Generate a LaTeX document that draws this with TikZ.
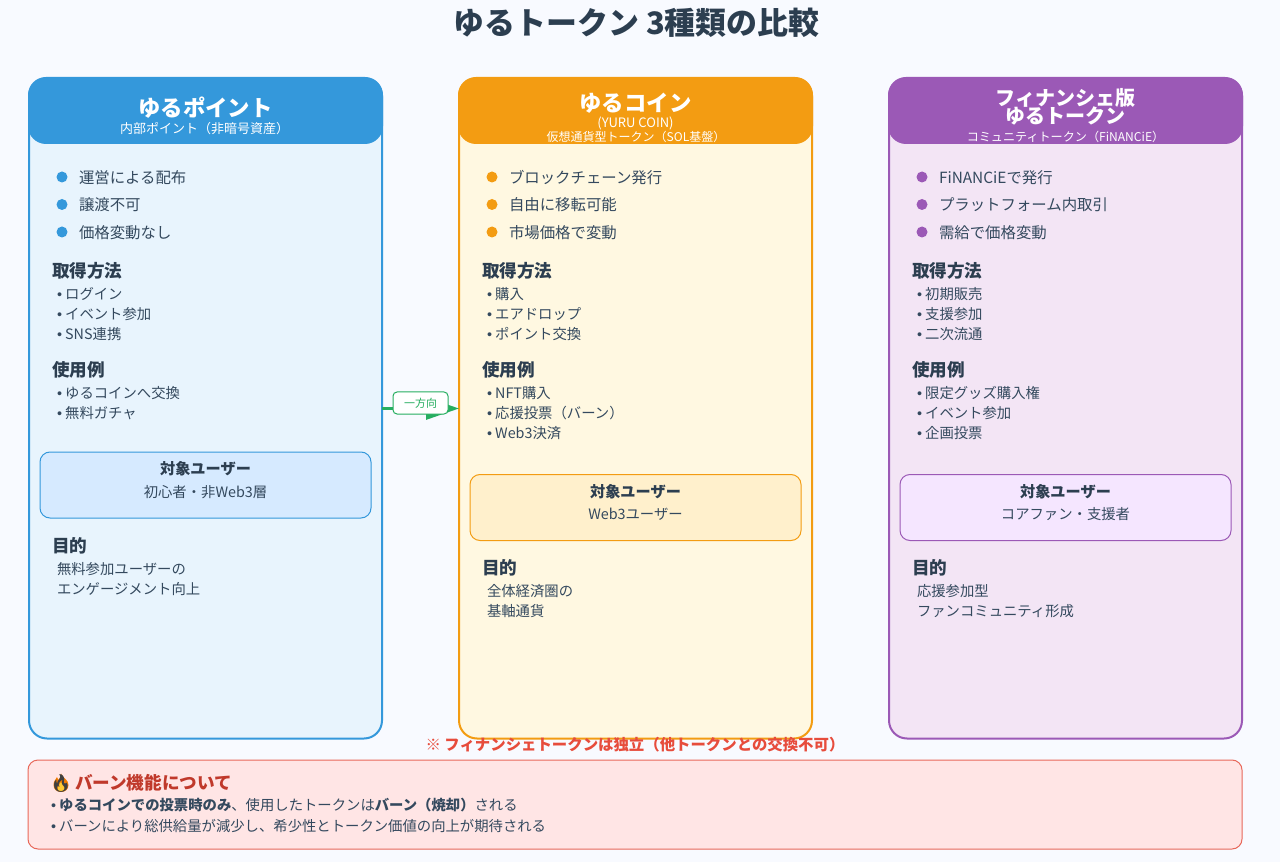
\documentclass[tikz,border=0pt]{standalone}
\usepackage{fontspec}
\usetikzlibrary{arrows.meta}
\setmainfont{Noto Sans CJK JP}
\newfontfamily\latbul{Liberation Sans}
\newfontfamily\emojifont{Noto Emoji}
\definecolor{pagebg}{HTML}{F8FAFF}
\definecolor{ink}{HTML}{2C3E50}
\definecolor{inksoft}{HTML}{34495E}
\definecolor{cblue}{HTML}{3498DB}
\definecolor{corange}{HTML}{F39C12}
\definecolor{cpurple}{HTML}{9B59B6}
\definecolor{bblue}{HTML}{E8F4FD}
\definecolor{borange}{HTML}{FFF8E1}
\definecolor{bpurple}{HTML}{F3E5F5}
\definecolor{tblue}{HTML}{D6EAFF}
\definecolor{torange}{HTML}{FFF0CC}
\definecolor{tpurple}{HTML}{F5E6FF}
\definecolor{cgreen}{HTML}{27AE60}
\definecolor{cred}{HTML}{E74C3C}
\definecolor{dred}{HTML}{C0392B}
\definecolor{bred}{HTML}{FFE5E5}
\definecolor{bline}{HTML}{E8685A}
\definecolor{flameout}{HTML}{F57C00}
\definecolor{flamein}{HTML}{FFC933}
\newcounter{lblc}
\newcommand{\lbl}[4]{\stepcounter{lblc}\node[#1] (lbl\thelblc) at (#2,#3) {#4};}
\newcommand{\itm}{{\latbul •}\hspace{0.22em}}
\newcommand{\bul}[3]{\stepcounter{lblc}\node[dotmark,fill=#1] (lbl\thelblc) at (#2,#3) {};}
\tikzset{
  txt/.style={inner sep=0pt,outer sep=0pt,anchor=base west,yshift={-(#1*0.2625pt+0.75pt)},
     font=\fontsize{\fpeval{#1*0.75}pt}{\fpeval{#1*0.9}pt}\selectfont},
  ctr/.style={inner sep=0pt,outer sep=0pt,anchor=base,yshift={-(#1*0.2625pt+0.75pt)},
     font=\fontsize{\fpeval{#1*0.75}pt}{\fpeval{#1*0.9}pt}\selectfont},
  bullet text/.style={txt=15.4,text=inksoft},
  sec head/.style={txt=17.6,text=ink,font=\fontsize{13.2pt}{16pt}\selectfont\bfseries},
  item text/.style={txt=14.35,text=inksoft},
  head name/.style={ctr=22.4,text=white,font=\fontsize{16.8pt}{20pt}\selectfont\bfseries},
  head name small/.style={ctr=20,text=white,font=\fontsize{15pt}{18pt}\selectfont\bfseries},
  target head/.style={ctr=15.2,text=ink,font=\fontsize{11.4pt}{14pt}\selectfont\bfseries},
  target text/.style={ctr=14.35,text=inksoft},
  dotmark/.style={circle,inner sep=0pt,outer sep=0pt,minimum size=8.25pt,draw=none},
  cardbody/.style={rounded corners=13.5pt,line width=1.5pt,inner sep=0pt,outer sep=0pt,
     minimum width=264.75pt,minimum height=495pt},
  cardhead/.style={rounded corners=13.5pt,draw=none,inner sep=0pt,outer sep=0pt,
     minimum width=266.25pt,minimum height=50.25pt},
  targetbox/.style={rounded corners=7.5pt,line width=0.75pt,inner sep=0pt,outer sep=0pt,
     minimum width=248.25pt,minimum height=49.5pt},
  burnbox/.style={rounded corners=7.5pt,line width=0.75pt,draw=bline,fill=bred,inner sep=0pt,outer sep=0pt,
     minimum width=910.5pt,minimum height=66.75pt},
  flowtag/.style={rounded corners=3pt,line width=0.75pt,draw=cgreen,fill=white,text=cgreen,
     inner sep=0pt,outer sep=0pt,minimum width=41.25pt,minimum height=16.5pt,
     font=\fontsize{8.25pt}{10pt}\selectfont},
  flowline/.style={line width=2.25pt,draw=cgreen,-{Triangle[length=24.75pt,width=16.5pt,fill=cgreen]}}
}
\begin{document}
\begin{tikzpicture}[x=0.75pt,y=-0.75pt]
\useasboundingbox (0,0) rectangle (1280,862);
\fill[pagebg] (0,0) rectangle (1280,862);
% title
\node[ctr=31,text=ink,font=\fontsize{23.2pt}{28pt}\selectfont\bfseries] (title) at (636.5,22.5) {ゆるトークン 3種類の比較};
% cards
\node[cardbody,draw=cblue,fill=bblue] (card1) at (205.5,408.5) {};
\node[cardbody,draw=corange,fill=borange] (card2) at (635.5,408.5) {};
\node[cardbody,draw=cpurple,fill=bpurple] (card3) at (1065.5,408.5) {};
\node[cardhead,fill=cblue] (head1) at (205.5,110.5) {};
\node[cardhead,fill=corange] (head2) at (635.5,110.5) {};
\node[cardhead,fill=cpurple] (head3) at (1065.5,110.5) {};
% connector
\draw[flowline] (card1.east) -- (card2.west);
\node[flowtag] (flow) at (420.5,403) {一方向};
% headers
\lbl{head name}{205.5}{108}{ゆるポイント}
\lbl{ctr=13,text=white}{204.5}{128}{内部ポイント（非暗号資産）}
\lbl{head name}{635.5}{102.5}{ゆるコイン}
\lbl{ctr=13,text=white}{635.5}{122}{(YURU COIN)}
\lbl{ctr=12,text=white}{636}{136}{仮想通貨型トークン（SOL基盤）}
\lbl{head name small}{1065.5}{98}{フィナンシェ版}
\lbl{head name small}{1065.5}{116}{ゆるトークン}
\lbl{ctr=12.1,text=white}{1065.5}{136}{コミュニティトークン（FiNANCiE）}
% column 1
\bul{cblue}{62}{177}\lbl{bullet text}{79}{177}{運営による配布}
\bul{cblue}{62}{204.5}\lbl{bullet text}{79}{204.5}{譲渡不可}
\bul{cblue}{62}{232}\lbl{bullet text}{79}{232}{価格変動なし}
\lbl{sec head}{52}{270}{取得方法}
\lbl{item text}{57}{293}{\itm ログイン}
\lbl{item text}{57}{313}{\itm イベント参加}
\lbl{item text}{57}{333}{\itm SNS連携}
\lbl{sec head}{52}{369}{使用例}
\lbl{item text}{57}{392}{\itm ゆるコインへ交換}
\lbl{item text}{57}{412}{\itm 無料ガチャ}
\node[targetbox,draw=cblue,fill=tblue] (tbox1) at (205.5,485) {};
\lbl{target head}{205.5}{468}{対象ユーザー}
\lbl{target text}{205.5}{491}{初心者・非Web3層}
\lbl{sec head}{52}{545}{目的}
\lbl{item text}{57}{568}{無料参加ユーザーの}
\lbl{item text}{57}{588}{エンゲージメント向上}
% column 2
\bul{corange}{492}{177}\lbl{bullet text}{509}{177}{ブロックチェーン発行}
\bul{corange}{492}{204.5}\lbl{bullet text}{509}{204.5}{自由に移転可能}
\bul{corange}{492}{232}\lbl{bullet text}{509}{232}{市場価格で変動}
\lbl{sec head}{482}{270}{取得方法}
\lbl{item text}{487}{293}{\itm 購入}
\lbl{item text}{487}{313}{\itm エアドロップ}
\lbl{item text}{487}{333}{\itm ポイント交換}
\lbl{sec head}{482}{369}{使用例}
\lbl{item text}{487}{392}{\itm NFT購入}
\lbl{item text}{487}{412}{\itm 応援投票（バーン）}
\lbl{item text}{487}{432}{\itm Web3決済}
\node[targetbox,draw=corange,fill=torange] (tbox2) at (635.5,507.5) {};
\lbl{target head}{635.5}{491}{対象ユーザー}
\lbl{target text}{635.5}{513}{Web3ユーザー}
\lbl{sec head}{482}{567}{目的}
\lbl{item text}{487}{590}{全体経済圏の}
\lbl{item text}{487}{610}{基軸通貨}
% column 3
\bul{cpurple}{922}{177}\lbl{bullet text}{939}{177}{FiNANCiEで発行}
\bul{cpurple}{922}{204.5}\lbl{bullet text}{939}{204.5}{プラットフォーム内取引}
\bul{cpurple}{922}{232}\lbl{bullet text}{939}{232}{需給で価格変動}
\lbl{sec head}{912}{270}{取得方法}
\lbl{item text}{917}{293}{\itm 初期販売}
\lbl{item text}{917}{313}{\itm 支援参加}
\lbl{item text}{917}{333}{\itm 二次流通}
\lbl{sec head}{912}{369}{使用例}
\lbl{item text}{917}{392}{\itm 限定グッズ購入権}
\lbl{item text}{917}{412}{\itm イベント参加}
\lbl{item text}{917}{432}{\itm 企画投票}
\node[targetbox,draw=cpurple,fill=tpurple] (tbox3) at (1065.5,507.5) {};
\lbl{target head}{1065.5}{491}{対象ユーザー}
\lbl{target text}{1065.5}{513}{コアファン・支援者}
\lbl{sec head}{912}{567}{目的}
\lbl{item text}{917}{590}{応援参加型}
\lbl{item text}{917}{610}{ファンコミュニティ形成}
% note
\lbl{ctr=15.4,text=cred,font=\fontsize{11.55pt}{14pt}\selectfont\bfseries}{635}{744}{※ フィナンシェトークンは独立（他トークンとの交換不可）}
% burn box
\node[burnbox] (burn) at (635,804.5) {};
\fill[flameout] (61,773.5) .. controls (62,778) and (68.5,779) .. (68.5,785) .. controls (68.5,789.5) and (65,792) .. (61,792) .. controls (57,792) and (53.5,789.5) .. (53.5,785) .. controls (53.5,781) and (56,779.5) .. (57,777) .. controls (58,778) and (58,779) .. (58.5,780) .. controls (60,778) and (61,776) .. (61,773.5) -- cycle;
\fill[flamein] (61,782) .. controls (62,785) and (64.5,785.5) .. (64.5,788) .. controls (64.5,790.5) and (63,791.5) .. (61,791.5) .. controls (59,791.5) and (57.5,790.5) .. (57.5,788) .. controls (57.5,785.5) and (60,785) .. (61,782) -- cycle;
\lbl{ctr=17.5,text=black!75,font=\fontsize{13.1pt}{15pt}\selectfont\emojifont}{61}{782}{🔥}
\lbl{txt=17.6,text=dred,font=\fontsize{13.2pt}{16pt}\selectfont\bfseries}{75}{782}{バーン機能について}
\lbl{item text}{51}{804}{\itm\textbf{ゆるコインでの投票時のみ}、使用したトークンは\textbf{バーン（焼却）}される}
\lbl{item text}{51}{825}{\itm バーンにより総供給量が減少し、希少性とトークン価値の向上が期待される}
\end{tikzpicture}
\end{document}
